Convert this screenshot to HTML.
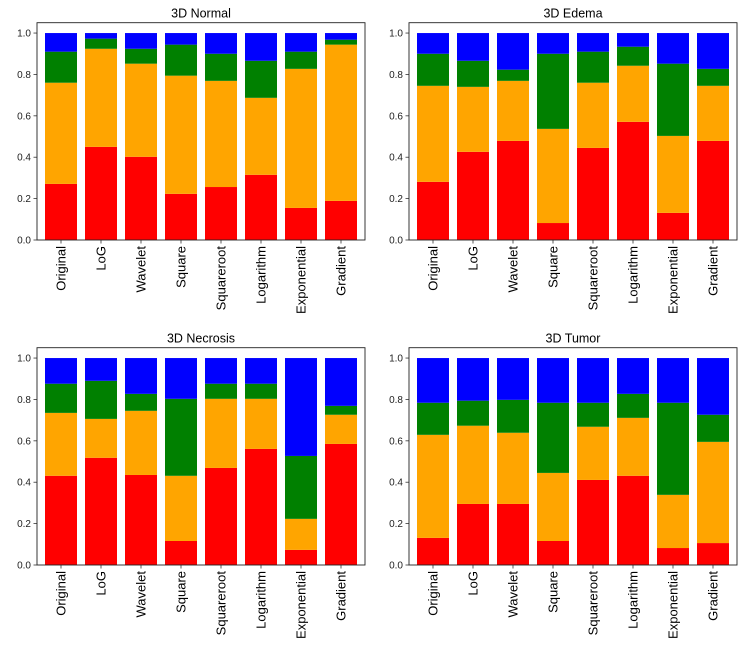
<!DOCTYPE html>
<html><head><meta charset="utf-8">
<style>
body{margin:0;background:#fff;}
svg{display:block;font-family:"Liberation Sans","DejaVu Sans",sans-serif;}
</style></head>
<body>
<svg id="c" width="744" height="650"></svg>
<script>
const categories = ["Original","LoG","Wavelet","Square","Squareroot","Logarithm","Exponential","Gradient"];
const titles = ["3D Normal","3D Edema","3D Necrosis","3D Tumor"];
const yTicks = [0,0.2,0.4,0.6,0.8,1.0];
const colors = ["red","orange","green","blue"];
const normalRed = [.271,.45,.402,.223,.256,.315,.155,.189];
const normalOrange = [.489,.474,.45,.571,.513,.372,.672,.755];
const normalGreen = [.15,.049,.072,.15,.131,.179,.083,.024];
const normalBlue = [.09,.027,.076,.056,.1,.134,.09,.032];
const edemaRed = [.281,.426,.479,.082,.445,.571,.131,.479];
const edemaOrange = [.464,.314,.29,.455,.315,.271,.372,.266];
const edemaGreen = [.155,.126,.054,.363,.15,.092,.349,.082];
const edemaBlue = [.1,.134,.177,.1,.09,.066,.148,.173];
const necrosisRed = [.431,.518,.435,.116,.469,.561,.073,.585];
const necrosisOrange = [.304,.188,.31,.315,.334,.242,.15,.141];
const necrosisGreen = [.141,.184,.082,.372,.073,.073,.304,.043];
const necrosisBlue = [.124,.11,.173,.197,.124,.124,.473,.231];
const tumorRed = [.131,.295,.295,.116,.411,.431,.082,.106];
const tumorOrange = [.498,.378,.344,.329,.257,.28,.257,.489];
const tumorGreen = [.155,.121,.159,.339,.116,.116,.445,.131];
const tumorBlue = [.216,.206,.202,.216,.216,.173,.216,.274];

const panelData = [
 [normalRed,normalOrange,normalGreen,normalBlue],
 [edemaRed,edemaOrange,edemaGreen,edemaBlue],
 [necrosisRed,necrosisOrange,necrosisGreen,necrosisBlue],
 [tumorRed,tumorOrange,tumorGreen,tumorBlue]
];
const boxes = [
 {l:37,r:365,t:22.7,b:240},
 {l:409,r:737,t:22.7,b:240},
 {l:37,r:365,t:347.7,b:565},
 {l:409,r:737,t:347.7,b:565}
];
const NS="http://www.w3.org/2000/svg";
const svg=document.getElementById('c');
function mk(tag,attrs,parent){const e=document.createElementNS(NS,tag);for(const k in attrs)e.setAttribute(k,attrs[k]);parent.appendChild(e);return e;}
const slugs=["normal","edema","necrosis","tumor"];
const segNames=["red","orange","green","blue"];
boxes.forEach((bx,p)=>{
  const g=mk('g',{},svg);
  
  
  const xs=v=>bx.l+(v+0.6)*(bx.r-bx.l)/8.2;
  const ys=v=>bx.b-v*(bx.b-bx.t)/1.05;
  const data=panelData[p];
  categories.forEach((cat,i)=>{
    let base=0;
    for(let s=0;s<4;s++){
      const v=data[s][i];
      const r=mk('rect',{x:xs(i-0.4),y:ys(base+v),width:xs(i+0.4)-xs(i-0.4),height:ys(base)-ys(base+v),fill:colors[s]},g);
      
      
      base+=v;
    }
    mk('line',{x1:xs(i),x2:xs(i),y1:bx.b,y2:bx.b+3.5,stroke:'#333','stroke-width':0.8},g);
    const t=mk('text',{x:0,y:0,'font-size':13,fill:'#000','text-anchor':'end',transform:`translate(${xs(i)+4.5},${bx.b+6}) rotate(-90)`},g);
    t.textContent=cat;
    
    
  });
  yTicks.forEach(v=>{
    mk('line',{x1:bx.l-3.5,x2:bx.l,y1:ys(v),y2:ys(v),stroke:'#333','stroke-width':0.8},g);
    const t=mk('text',{x:bx.l-6,y:ys(v)+3.5,'font-size':10,fill:'#222','text-anchor':'end'},g);
    t.textContent=v.toFixed(1);
    
    
  });
  const fr=mk('rect',{x:bx.l,y:bx.t,width:bx.r-bx.l,height:bx.b-bx.t,fill:'none',stroke:'#222','stroke-width':0.9},g);
  
  
  const tt=mk('text',{x:(bx.l+bx.r)/2,y:bx.t-5,'font-size':12.5,fill:'#000','text-anchor':'middle'},g);
  tt.textContent=titles[p];
  
  
});
</script>
</body></html>
